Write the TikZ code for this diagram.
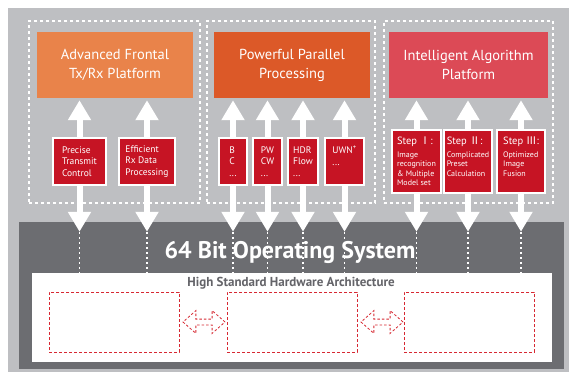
\documentclass[tikz,border=0pt]{standalone}
\usepackage{fontspec}
\setmainfont{PT Sans}
\newfontfamily\cjk{Noto Sans CJK SC}
\usetikzlibrary{positioning, arrows.meta, shapes.arrows}

\definecolor{bggray}{RGB}{190,191,194}
\definecolor{osgray}{RGB}{108,109,113}
\definecolor{hwtext}{RGB}{100,100,105}
\definecolor{frontorange}{RGB}{233,131,74}
\definecolor{parorange}{RGB}{220,89,40}
\definecolor{algored}{RGB}{220,74,86}
\definecolor{boxred}{RGB}{198,20,36}
\definecolor{dashred}{RGB}{215,40,50}

\begin{document}
\begin{tikzpicture}[x=1pt, y=-1pt]
    \tikzstyle{groupbox} = [draw=white, line width=1.5pt, dash pattern=on 3pt off 3pt, minimum height=182pt];
    \tikzstyle{headbox} = [text=white, inner sep=0, minimum height=66pt, align=center, font=\fontsize{14.5}{19}\selectfont];
    \tikzstyle{unitbox} = [draw=white, line width=1.5pt, fill=boxred, text=white, inner sep=0, align=left, minimum height=47pt, font=\fontsize{9.5}{11.5}\selectfont];
    \tikzstyle{stepbox} = [unitbox, minimum height=63pt, font=\fontsize{8}{9.5}\selectfont];
    \tikzstyle{flowarrow} = [draw=white, line width=6pt, -{Triangle[width=22pt, length=20pt]}];
    \tikzstyle{busline} = [draw=white, line width=1.2pt, dash pattern=on 2pt off 3pt];
    \tikzstyle{hwblock} = [draw=dashred, line width=0.8pt, dash pattern=on 3pt off 2pt, minimum width=130pt, minimum height=60pt];
    \tikzstyle{busarrow} = [draw=dashred, line width=0.8pt, dash pattern=on 2.5pt off 2pt, shape=double arrow, inner sep=0, inner ysep=2.5pt, minimum width=0pt, minimum height=42pt, double arrow head extend=8.5pt, double arrow tip angle=83];

    \useasboundingbox (0,0) rectangle (569,372);
    \fill[bggray] (8,8) rectangle (569,372);

    \node[groupbox, minimum width=171pt] (g1) at (114.5,112) {};
    \node[groupbox, minimum width=168pt] (g2) at (291,112) {};
    \node[groupbox, minimum width=169pt] (g3) at (468.5,112) {};

    \node[headbox, fill=frontorange, minimum width=156pt] (h1) at (115,65) {Advanced Frontal\\Tx/Rx Platform};
    \node[headbox, fill=parorange, minimum width=156pt] (h2) at (292,65) {Powerful Parallel\\Processing};
    \node[headbox, fill=algored, minimum width=159pt] (h3) at (468.5,65) {Intelligent Algorithm\\Platform};

    \node[unitbox, minimum width=53pt] (u11) at (79.5,161.5) {Precise\\Transmit\\Control};
    \node[unitbox, minimum width=56pt] (u12) at (147,161.5) {Efficient\\Rx Data\\Processing};

    \node[unitbox, minimum width=28pt] (u21) at (233,161.5) {B\\C\\...};
    \node[unitbox, minimum width=29pt] (u22) at (267.5,161.5) {PW\\CW\\...};
    \node[unitbox, minimum width=30pt] (u23) at (303,161.5) {HDR\\Flow\\...};
    \node[unitbox, minimum width=39pt] (u24) at (344.5,161.5) {UWN\textsuperscript{+}\\...\\\phantom{M}};

    \node[stepbox, minimum width=49pt] (u31) at (416.5,161.5) {{\fontsize{10.5}{12}\selectfont Step {\cjk Ⅰ}:}\\[3pt]Image\\recognition\\\& Multiple\\Model set};
    \node[stepbox, minimum width=48pt] (u32) at (468,161.5) {{\fontsize{10.5}{12}\selectfont Step {\cjk Ⅱ}:}\\[3pt]Complicated\\Preset\\Calculation\\\phantom{M}};
    \node[stepbox, minimum width=48pt] (u33) at (521,161.5) {{\fontsize{10.5}{12}\selectfont Step {\cjk Ⅲ}:}\\[3pt]Optimized\\Image\\Fusion\\\phantom{M}};

    \node[fill=osgray, minimum width=545pt, minimum height=147pt, inner sep=0] (os) at (291.5,295.5) {};
    \node[fill=white, minimum width=520pt, minimum height=89pt, inner sep=0] (hw) at (292,317.5) {};
    \node[anchor=base, text=white, inner sep=0, font=\fontsize{24}{27}\selectfont\bfseries] (oslabel) at (290,258) {64 Bit Operating System};
    \node[anchor=base, text=hwtext, inner sep=0, font=\fontsize{13}{15}\selectfont\bfseries] (hwlabel) at (291,286) {High Standard Hardware Architecture};

    \node[hwblock] (hwa) at (114,322) {};
    \node[hwblock] (hwb) at (292,322) {};
    \node[hwblock] (hwc) at (469,322) {};
    \node[busarrow, right=3pt of hwa] (ab) {};
    \node[busarrow, right=3pt of hwb] (bc) {};

    \foreach \u/\h in {u11/h1, u12/h1, u21/h2, u22/h2, u23/h2, u24/h2, u31/h3, u32/h3, u33/h3} {
        \draw[flowarrow, shorten >=2pt] (\u.north) -- (\u.north |- \h.south);
        \draw[flowarrow] (\u.south) -- ([yshift=-10pt]\u.south |- os.north);
        \draw[busline] ([yshift=-10pt]\u.south |- os.north) -- (\u.south |- hw.north);
    }
\end{tikzpicture}
\end{document}
